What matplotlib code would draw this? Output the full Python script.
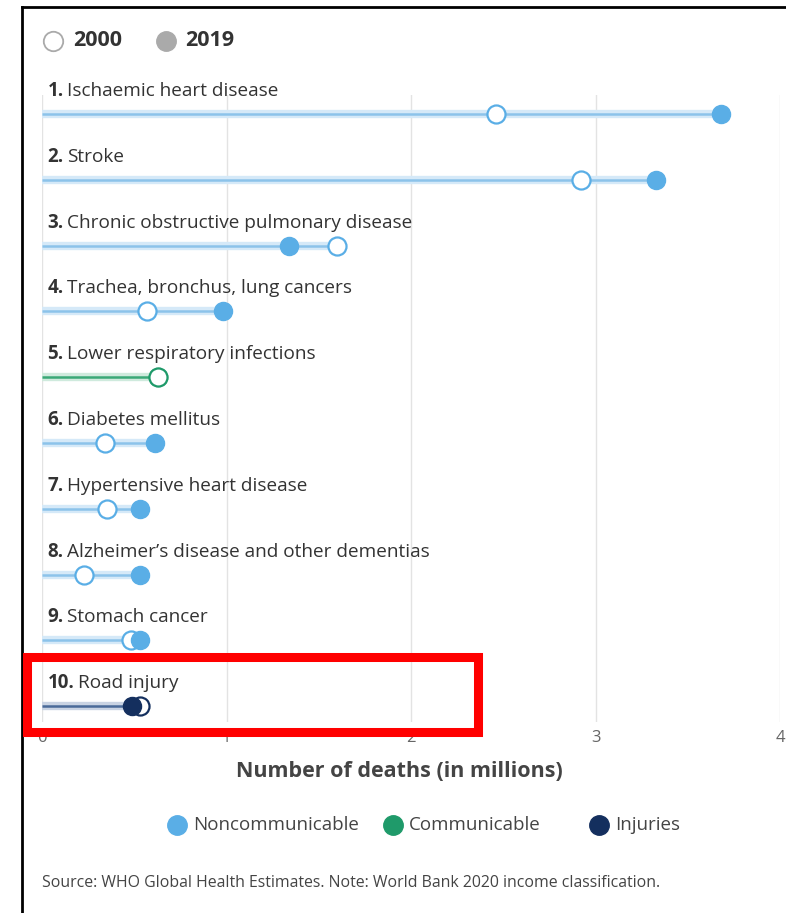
#!/usr/bin/env python3
import matplotlib
matplotlib.use("Agg")
import matplotlib.pyplot as plt
from matplotlib.lines import Line2D
from matplotlib.patches import Rectangle

plt.rcParams['font.family'] = ['Open Sans', 'DejaVu Sans']

# data (millions of deaths)
causes = ["Ischaemic heart disease", "Stroke",
          "Chronic obstructive pulmonary disease",
          "Trachea, bronchus, lung cancers", "Lower respiratory infections",
          "Diabetes mellitus", "Hypertensive heart disease",
          "Alzheimer\u2019s disease and other dementias", "Stomach cancer",
          "Road injury"]
deaths_2000 = [2.46, 2.92, 1.60, 0.57, 0.63, 0.34, 0.35, 0.23, 0.48, 0.53]
deaths_2019 = [3.68, 3.33, 1.34, 0.98, 0.63, 0.61, 0.53, 0.53, 0.53, 0.49]
groups = ["Noncommunicable", "Noncommunicable", "Noncommunicable",
          "Noncommunicable", "Communicable", "Noncommunicable",
          "Noncommunicable", "Noncommunicable", "Noncommunicable", "Injuries"]
group_names = ["Noncommunicable", "Communicable", "Injuries"]
x_ticks = [0, 1, 2, 3, 4]

COLORS = {"Noncommunicable": "#5aaee6", "Communicable": "#1f9a6a",
          "Injuries": "#142f5e"}
LINE = {"Noncommunicable": ("#d5e9f8", "#8cc3ea"),
        "Communicable": ("#cfeadd", "#3aa877"),
        "Injuries": ("#c9d3e3", "#4a6a99")}
TXT = "#333333"

W, H = 786, 913
fig = plt.figure(figsize=(W / 100, H / 100), dpi=100)

# axes in pixel terms: x 0 at px 42, 4 at px 780; rows from y=114 step 65.8
top_px, bot_px = 95, 722
ax = fig.add_axes([42 / W, 1 - bot_px / H, (780 - 42) / W, (bot_px - top_px) / H])
step = 65.8
ax.set_xlim(0, 4)
ax.set_ylim((bot_px - 114) / step, -(114 - top_px) / step)

for sp in ax.spines.values():
    sp.set_visible(False)
ax.set_yticks([])
ax.set_xticks(x_ticks)
ax.set_xticklabels([str(t) for t in x_ticks], color="#666666", fontsize=12)
ax.tick_params(axis="x", length=0, pad=6)
ax.grid(axis="x", color="#e3e3e3", linewidth=1)
ax.set_axisbelow(True)

for i, cause in enumerate(causes):
    g = groups[i]
    c = COLORS[g]
    glow, core = LINE[g]
    xmax = max(deaths_2000[i], deaths_2019[i])
    ax.plot([0, xmax], [i, i], color=glow, lw=6, solid_capstyle="butt", zorder=2)
    ax.plot([0, xmax], [i, i], color=core, lw=1.8, solid_capstyle="butt", zorder=2)
    same = abs(deaths_2000[i] - deaths_2019[i]) < 0.01
    ax.plot(deaths_2019[i], i, "o", ms=13, color=c, mec=c, zorder=4,
            clip_on=False)
    ax.plot(deaths_2000[i], i, "o", ms=13, mfc="white", mec=c, mew=1.6,
            zorder=5 if same else 3, clip_on=False)
    t1 = ax.text(0.03, i - 0.35, f"{i + 1}.", fontsize=13.5, fontweight="bold",
                 color=TXT, va="center", ha="left", clip_on=False)
    ax.annotate(cause, xy=(1, 0.5), xycoords=t1,
                xytext=(2.5, 0), textcoords="offset points", fontsize=13.7,
                color=TXT, va="center", ha="left", annotation_clip=False)

# top year legend
fig.add_artist(Line2D([53 / W], [1 - 41 / H], marker="o", ms=14, mfc="white",
                      mec="#aaaaaa", mew=1.3))
fig.text(73 / W, 1 - 41 / H, "2000", fontsize=15.5, fontweight="bold",
         color=TXT, va="center")
fig.add_artist(Line2D([166 / W], [1 - 41 / H], marker="o", ms=14,
                      mfc="#aaaaaa", mec="#aaaaaa"))
fig.text(185 / W, 1 - 41 / H, "2019", fontsize=15.5, fontweight="bold",
         color=TXT, va="center")

# x axis title
fig.text(399 / W, 1 - 771 / H, "Number of deaths (in millions)", fontsize=15.5,
         fontweight="bold", color="#444444", ha="center", va="center")

# group legend
leg_x = [177, 393, 599]
for gx, name in zip(leg_x, group_names):
    fig.add_artist(Line2D([gx / W], [1 - 825 / H], marker="o", ms=14,
                          color=COLORS[name], mec=COLORS[name]))
    fig.text((gx + 16) / W, 1 - 825 / H, name, fontsize=13.5, color="#444444",
             va="center")

fig.text(42 / W, 1 - 883 / H,
         "Source: WHO Global Health Estimates. Note: World Bank 2020 income classification.",
         fontsize=11.4, color="#444444", va="center")

# screenshot frame and highlight box
fig.add_artist(Line2D([22 / W, 22 / W], [0, 1 - 7 / H], color="black", lw=2))
fig.add_artist(Line2D([22 / W, 1], [1 - 7 / H, 1 - 7 / H], color="black", lw=2))
fig.add_artist(Rectangle((26.5 / W, 1 - 731.5 / H), (478 - 26.5) / W,
                         (731.5 - 656.5) / H, transform=fig.transFigure,
                         fill=False, edgecolor="#ff0000", lw=6.5, zorder=10))

fig.savefig("out.png", dpi=100)
